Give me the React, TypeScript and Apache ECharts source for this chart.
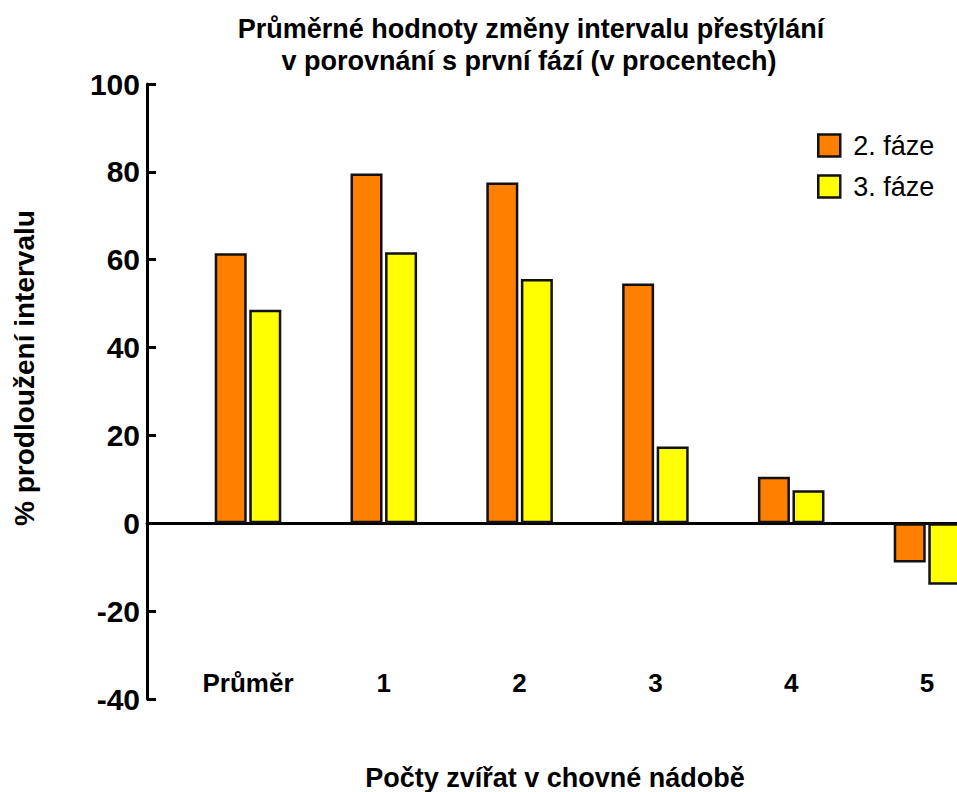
import React, { useEffect, useRef } from "react";
import * as echarts from "echarts";

const categories = ["Průměr", "1", "2", "3", "4", "5"];
const phase2 = [61.5, 79.6, 77.6, 54.6, 10.6, -8.9];
const phase3 = [48.6, 61.7, 55.6, 17.5, 7.5, -14];
const seriesNames = ["2. fáze", "3. fáze"];
const titleLines = [
  "Průměrné hodnoty změny intervalu přestýlání",
  "v porovnání s první fází (v procentech)",
];
const xTitle = "Počty zvířat v chovné nádobě";
const yTitle = "% prodloužení intervalu";

const FONT = "'Liberation Sans', Arial, sans-serif";

export default function App() {
  const ref = useRef<HTMLDivElement>(null);
  useEffect(() => {
    if (!ref.current) return;
    const chart = echarts.init(ref.current, null, { renderer: "svg" });
    const border = { borderColor: "#111", borderWidth: 2.5 };
    chart.setOption({
      animation: false,
      backgroundColor: "#fff",
      textStyle: { fontFamily: FONT },
      grid: [
        { left: 147, right: 0, top: 84, bottom: 93 },
        { left: 248, right: 30, top: 84, bottom: 93 },
      ],
      legend: {
        data: seriesNames,
        orient: "vertical",
        left: 817,
        top: 132,
        padding: 0,
        itemWidth: 22,
        itemHeight: 22,
        itemGap: 14,
        icon: "rect",
        itemStyle: { borderColor: "#111", borderWidth: 2.5 },
        textStyle: { fontSize: 27, color: "#000", fontFamily: FONT, padding: [0, 0, 0, 8] },
      },
      xAxis: [
        {
          type: "category",
          gridIndex: 0,
          data: categories,
          axisLine: { onZero: true, lineStyle: { color: "#000", width: 3 } },
          axisTick: { show: false },
          axisLabel: { show: false },
          splitLine: { show: false },
        },
        {
          type: "category",
          gridIndex: 1,
          data: categories,
          boundaryGap: false,
          position: "bottom",
          axisLine: { show: false, onZero: false },
          axisTick: { show: false },
          splitLine: { show: false },
          axisLabel: {
            margin: -29,
            fontSize: 26,
            fontWeight: "bold",
            color: "#000",
            fontFamily: FONT,
          },
        },
      ],
      yAxis: [
        {
          type: "value",
          gridIndex: 0,
          min: -40,
          max: 100,
          interval: 20,
          axisLine: { show: true, lineStyle: { color: "#000", width: 3 } },
          axisTick: { show: true, inside: true, length: 9, lineStyle: { color: "#000", width: 3 } },
          splitLine: { show: false },
          axisLabel: {
            margin: 7,
            fontSize: 30,
            fontWeight: "bold",
            color: "#000",
            fontFamily: FONT,
          },
        },
        {
          type: "value",
          gridIndex: 1,
          min: -40,
          max: 100,
          interval: 20,
          show: false,
        },
      ],
      series: [
        {
          name: seriesNames[0],
          type: "bar",
          xAxisIndex: 1,
          yAxisIndex: 1,
          data: phase2,
          barWidth: 32,
          barGap: "8%",
          clip: false,
          itemStyle: { color: "#FF8000", ...border },
        },
        {
          name: seriesNames[1],
          type: "bar",
          xAxisIndex: 1,
          yAxisIndex: 1,
          data: phase3,
          barWidth: 32,
          barGap: "8%",
          clip: false,
          itemStyle: { color: "#FFFF00", ...border },
        },
      ],
      graphic: [
        {
          type: "text",
          x: 531,
          y: 29,
          style: {
            text: titleLines[0],
            font: `bold 27px ${FONT}`,
            fill: "#000",
            align: "center",
            verticalAlign: "middle",
          },
        },
        {
          type: "text",
          x: 529,
          y: 61,
          style: {
            text: titleLines[1],
            font: `bold 27px ${FONT}`,
            fill: "#000",
            align: "center",
            verticalAlign: "middle",
          },
        },
        {
          type: "text",
          x: 555,
          y: 778,
          style: {
            text: xTitle,
            font: `bold 27px ${FONT}`,
            fill: "#000",
            align: "center",
            verticalAlign: "middle",
          },
        },
        {
          type: "text",
          x: 24,
          y: 368,
          rotation: Math.PI / 2,
          style: {
            text: yTitle,
            font: `bold 28px ${FONT}`,
            fill: "#000",
            align: "center",
            verticalAlign: "middle",
          },
        },
      ],
    });
    return () => chart.dispose();
  }, []);
  return (
    <div
      ref={ref}
      style={{ position: "fixed", left: 0, top: 0, width: 957, height: 792 }}
    />
  );
}
